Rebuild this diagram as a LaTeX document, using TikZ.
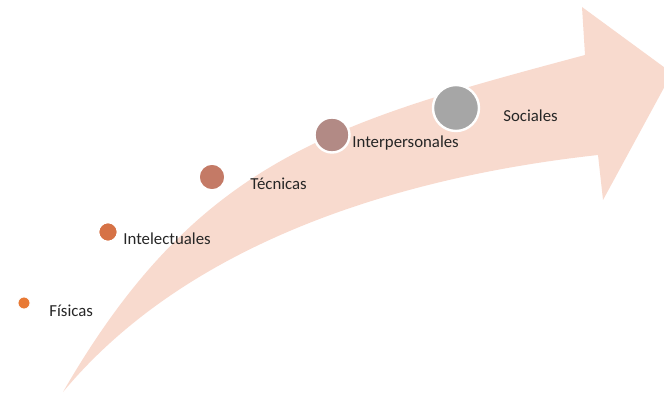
\documentclass[tikz,border=0pt]{standalone}
\usepackage{fontspec}
\setmainfont{Carlito}
\usepackage{tikz}
\usetikzlibrary{positioning}

\definecolor{arrowpink}{RGB}{248,218,206}
\definecolor{fisc}{RGB}{232,121,52}
\definecolor{intc}{RGB}{214,114,70}
\definecolor{tecc}{RGB}{196,122,102}
\definecolor{perc}{RGB}{178,138,133}
\definecolor{socc}{RGB}{166,166,166}

\begin{document}
\begin{tikzpicture}[x=0.5pt, y=-0.5pt,
    skill/.style={circle, draw=white, line width=0.8pt, inner sep=0pt},
    lbl/.style={anchor=base west, inner sep=0pt, text=black!85, font=\fontsize{8.4}{10}\selectfont}]
  \useasboundingbox (0,0) rectangle (664,395);

  % Arrow
  \fill[arrowpink] (63,392) .. controls (198,158) and (335,122) .. (585,55)
    -- (582,7) -- (672,73) -- (603,200) -- (598,155)
    .. controls (398,177) and (187,243) .. (63,392) -- cycle;

  % Circles
  \node [skill, fill=fisc, minimum size=6pt, line width=0.4pt] (fisicas) at (24,303) {};
  \node [skill, fill=intc, minimum size=9.5pt] (intelect) at (108,232) {};
  \node [skill, fill=tecc, minimum size=13pt] (tecnicas) at (212,177) {};
  \node [skill, fill=perc, minimum size=17.5pt, line width=1.2pt] (interp) at (332,135) {};
  \node [skill, fill=socc, minimum size=23pt, line width=1.2pt] (sociales) at (456,108) {};

  % Labels
  \node [lbl] (fisicasT) at (49,317) {Físicas};
  \node [lbl] (intelectT) at (123,245) {Intelectuales};
  \node [lbl] (tecnicasT) at (250,190) {Técnicas};
  \node [lbl] (interpT) at (352,148) {Interpersonales};
  \node [lbl] (socialesT) at (503,122) {Sociales};
\end{tikzpicture}
\end{document}
